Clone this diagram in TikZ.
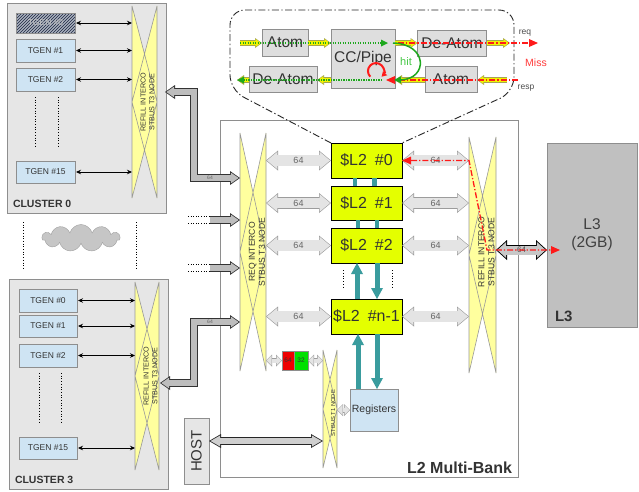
\documentclass[tikz,border=0pt]{standalone}
\usepackage{fontspec}
\setmainfont{Liberation Sans}
\usetikzlibrary{arrows.meta,calc,patterns,shapes.symbols}

\definecolor{clusbg}{HTML}{E6E6E6}
\definecolor{bord}{HTML}{8E8E8E}
\definecolor{tgfill}{HTML}{CFE4F3}
\definecolor{hatchbg}{HTML}{A9B0BE}
\definecolor{hatchc}{HTML}{1C2640}
\definecolor{icfill}{HTML}{FFFF9E}
\definecolor{icline}{HTML}{999999}
\definecolor{bankfill}{HTML}{E4FF00}
\definecolor{tealc}{HTML}{3A9C9E}
\definecolor{txt}{HTML}{333333}
\definecolor{l3fill}{HTML}{C0C0C0}
\definecolor{boxgray}{HTML}{DEDEDE}
\definecolor{arrlight}{HTML}{E4E4E4}
\definecolor{arrlline}{HTML}{9C9C9C}
\definecolor{arrdark}{HTML}{BDBDBD}
\definecolor{arrdline}{HTML}{333333}
\definecolor{l3arr}{HTML}{C8C8C8}
\definecolor{hostarr}{HTML}{CFCFCF}
\definecolor{yel}{HTML}{F2F200}
\definecolor{yelline}{HTML}{A5A552}
\definecolor{grn}{HTML}{1EA81E}
\definecolor{hitg}{HTML}{45C845}
\definecolor{redc}{HTML}{FF1A1A}
\definecolor{misc}{HTML}{FF3B3B}
\definecolor{lab}{HTML}{666666}
\definecolor{redbox}{HTML}{EE0000}
\definecolor{grnbox}{HTML}{00E000}

% fat outlined arrow, tips at both ends
% #1 outline, #2 fill, #3 shaft, #4 border, #5 head width, #6 head length, #7 path
\newcommand\fatB[7]{%
  \pgfmathsetmacro\FAd{#4/sin(atan(#5/(2*#6)))}%
  \pgfmathsetmacro\FAL{#6-#4-\FAd}%
  \pgfmathsetmacro\FAW{#5*\FAL/#6}%
  \pgfmathsetmacro\FAo{#3+2*#4}%
  \draw[draw=#1, line width=\FAo pt, line join=miter,
    {Triangle[length=#6pt,width=#5pt,line width=0pt]}-{Triangle[length=#6pt,width=#5pt,line width=0pt]}] #7;
  \draw[draw=#2, line width=#3pt, line join=miter, shorten <=\FAd pt, shorten >=\FAd pt,
    {Triangle[length=\FAL pt,width=\FAW pt,line width=0pt]}-{Triangle[length=\FAL pt,width=\FAW pt,line width=0pt]}] #7;
}
% fat outlined arrow, tip at end only
\newcommand\fatE[7]{%
  \pgfmathsetmacro\FAd{#4/sin(atan(#5/(2*#6)))}%
  \pgfmathsetmacro\FAL{#6-#4-\FAd}%
  \pgfmathsetmacro\FAW{#5*\FAL/#6}%
  \pgfmathsetmacro\FAo{#3+2*#4}%
  \draw[draw=#1, line width=\FAo pt, line join=miter,
    -{Triangle[length=#6pt,width=#5pt,line width=0pt]}] #7;
  \draw[draw=#2, line width=#3pt, line join=miter, shorten >=\FAd pt,
    -{Triangle[length=\FAL pt,width=\FAW pt,line width=0pt]}] #7;
}
% STBus node (crossbar) shape drawn over an invisible node
\newcommand\icshape[1]{%
  \fill[icfill] (#1.north west) -- (#1.east) -- (#1.south west) -- cycle;
  \fill[icfill] (#1.north east) -- (#1.west) -- (#1.south east) -- cycle;
  \draw[icline, line width=0.6pt, line join=bevel]
     (#1.north west) -- (#1.east) -- (#1.south west) -- cycle
     (#1.north east) -- (#1.west) -- (#1.south east) -- cycle;}

\begin{document}
\begin{tikzpicture}[x=1pt,y=-1pt,
  every node/.style={inner sep=0pt, outer sep=0pt, text=txt},
  clus/.style={draw=bord, fill=clusbg, line width=0.8pt},
  tgb/.style={draw=bord, line width=0.6pt, minimum width=59, minimum height=22, font=\fontsize{8.5}{10}\selectfont},
  tg/.style={tgb, fill=tgfill},
  iclab/.style={rotate=90, align=center, text=txt},
  bank/.style={draw=black, line width=0.8pt, fill=bankfill, minimum width=71, minimum height=35, font=\fontsize{16}{18}\selectfont},
  cbox/.style={draw=bord, line width=0.6pt, fill=boxgray, minimum height=26, font=\fontsize{15.5}{18}\selectfont},
  lab64/.style={font=\fontsize{9}{10}\selectfont, text=lab},
  bidir/.style={{Stealth[length=5pt,width=4.5pt]}-{Stealth[length=5pt,width=4.5pt]}, line width=0.7pt, draw=black, shorten <=1pt},
  tealbar/.style={draw=tealc, line width=4.5pt},
  tealarr/.style={draw=tealc, line width=5pt, -{Triangle[length=11pt,width=12pt,line width=0pt]}},
  reddash/.style={draw=redc, line width=1.3pt, dash pattern=on 6pt off 2pt on 1.3pt off 2pt},
  grndot/.style={draw=grn, line width=1.4pt, dash pattern=on 1.3pt off 1.2pt},
  redtip/.style={-{Triangle[length=9pt,width=8pt,line width=0pt]}},
  grntip/.style={-{Triangle[length=7pt,width=7pt,line width=0pt]}},
  callout/.style={draw=black!85, line width=0.9pt, dash pattern=on 7pt off 2.5pt on 1.3pt off 2.5pt, rounded corners=15pt},
]
\useasboundingbox (0,0) rectangle (639,491);
\fill[white] (0,0) rectangle (639,491);

% ================= L2 multi-bank frame =================
\node[draw=bord, fill=white, line width=0.7pt, minimum width=298, minimum height=357] (l2) at (369,298.5) {};
\node[anchor=east, font=\bfseries\fontsize{16}{18}\selectfont] (l2lab) at (512,468) {L2 Multi-Bank};

% ================= L3 =================
\node[draw=bord, fill=l3fill, line width=0.7pt, minimum width=90, minimum height=184, align=center,
      font=\fontsize{15.5}{18}\selectfont, text=black!75] (l3) at (592,235) {L3\\(2GB)};
\node[anchor=west, font=\bfseries\fontsize{15}{17}\selectfont] (l3lab) at (555,316) {L3};

% ================= Cluster 0 =================
\node[clus, minimum width=159, minimum height=210] (c0) at (86.5,108) {};
\node[tgb, minimum height=20, preaction={fill=hatchbg}, pattern=north east lines, pattern color=hatchc, text=gray!45] (c0t0) at (45.5,23) {TGEN \#0};
\node[tg, minimum height=23] (c0t1) at (45.5,50.5) {TGEN \#1};
\node[tg, minimum height=23] (c0t2) at (45.5,79.5) {TGEN \#2};
\node[tg] (c0t15) at (45.5,172) {TGEN \#15};
\draw[dotted, line width=0.7pt] (35,97) -- (35,146) (58,97) -- (58,146);
\node[minimum width=25, minimum height=192] (c0ic) at (144.5,102) {};
\icshape{c0ic}
\node[iclab, font=\fontsize{7.2}{8.8}\selectfont] (c0icl) at ($(c0ic.center)+(3,0)$) {REFILL INTERCO\\STBUS T3 NODE};
\foreach \t in {c0t0,c0t1,c0t2,c0t15} \draw[bidir] (\t.east) -- (c0ic.west |- \t.east);
\node[anchor=west, font=\bfseries\fontsize{10.5}{12}\selectfont] (c0lab) at (13,204) {CLUSTER 0};

% ================= other clusters (cloud) =================
\node[cloud, cloud puffs=11, aspect=2.9, draw=gray!75, fill=gray!45, minimum width=78, minimum height=27] (cloud) at (81,238) {};
\draw[dotted, line width=0.7pt] (23,222) -- (23,270) (136,222) -- (136,270);

% ================= Cluster 3 =================
\node[clus, minimum width=159, minimum height=210] (c3) at (88.5,384) {};
\node[tg, minimum width=58, minimum height=23] (c3t0) at (48,300.5) {TGEN \#0};
\node[tg, minimum width=58] (c3t1) at (48,326) {TGEN \#1};
\node[tg, minimum width=58, minimum height=23] (c3t2) at (48,355.5) {TGEN \#2};
\node[tg, minimum width=58] (c3t15) at (48,448) {TGEN \#15};
\draw[dotted, line width=0.7pt] (39,373) -- (39,422) (61,373) -- (61,422);
\node[minimum width=24, minimum height=188] (c3ic) at (147,376) {};
\icshape{c3ic}
\node[iclab, font=\fontsize{7.2}{8.8}\selectfont] (c3icl) at ($(c3ic.center)+(3.5,0)$) {REFILL INTERCO\\STBUS T3 NODE};
\foreach \t in {c3t0,c3t1,c3t2,c3t15} \draw[bidir] (\t.east) -- (c3ic.west |- \t.east);
\node[anchor=west, font=\bfseries\fontsize{10.5}{12}\selectfont] (c3lab) at (15,480) {CLUSTER 3};

% ================= interconnect nodes inside L2 =================
\node[minimum width=26, minimum height=238] (req) at (253,252) {};
\icshape{req}
\node[iclab, font=\fontsize{8.6}{10}\selectfont] (reql) at ($(req.center)+(4,0)$) {REQ INTERCO\\STBUS T3 NODE};
\node[minimum width=27, minimum height=236] (rf) at (482.5,255) {};
\icshape{rf}
\node[iclab, font=\fontsize{8.6}{10}\selectfont] (rfl) at ($(rf.center)+(4,-3)$) {REFILL INTERCO\\STBUS T3 NODE};
\node[minimum width=14, minimum height=118] (t1) at (330,409) {};
\icshape{t1}
\node[iclab, font=\fontsize{5.8}{7}\selectfont] (t1l) at ($(t1.center)+(3,4)$) {STBUS T1 NODE};

% ================= callout (zoom on a bank) =================
\node[bank] (b0) at (366.5,160.5) {\$L2\hspace{0.5em}\#0};
\coordinate (coA) at (230,90);
\coordinate (coB) at (230,10);
\coordinate (coC) at (514,10);
\coordinate (coD) at (514,92);
\draw[callout] (b0.north west) -- (coA) -- (coB) -- (coC) -- (coD) -- (b0.north east);

\node[cbox, minimum width=46, minimum height=27] (atomA) at (285,42.5) {Atom};
\node[cbox, minimum width=64, minimum height=59] (cc) at (363,58.5) {CC/Pipe};
\node[cbox, minimum width=69] (deA) at (452,43) {De-Atom};
\node[cbox, minimum width=68] (deB) at (283,79) {De-Atom};
\node[cbox, minimum width=52] (atomB) at (451,79) {Atom};

\coordinate (ya0) at (240,43);
\coordinate (ya4) at (510,43);
\coordinate (yb0) at (507,80);
\coordinate (yb3) at (237,80);
\fatE{yelline}{yel}{4.5}{0.6}{10}{7}{(ya0) -- (atomA.west |- ya0)}
\fatE{yelline}{yel}{4.5}{0.6}{10}{7}{(atomA.east |- ya0) -- (cc.west |- ya0)}
\fatE{yelline}{yel}{4.5}{0.6}{10}{7}{(cc.east |- ya0) -- (deA.west |- ya0)}
\fatE{yelline}{yel}{4.5}{0.6}{10}{7}{(deA.east |- ya0) -- (ya4)}
\fatE{yelline}{yel}{4.5}{0.6}{10}{7}{(yb0) -- (atomB.east |- yb0)}
\fatE{yelline}{yel}{4.5}{0.6}{10}{7}{(atomB.west |- yb0) -- (cc.east |- yb0)}
\fatE{yelline}{yel}{4.5}{0.6}{10}{7}{(cc.west |- yb0) -- (deB.east |- yb0)}
\fatE{yelline}{yel}{4.5}{0.6}{10}{7}{(deB.west |- yb0) -- (yb3)}

\coordinate (gA) at (388,43);
\coordinate (gB) at (382,80);
\coordinate (rA0) at (398,43);
\coordinate (rA1) at (538,43);
\coordinate (rB0) at (518,80);
\coordinate (rB1) at (386,80);
\draw[grndot, grntip] (ya0) -- (gA);
\draw[grndot, grntip] (gB) -- (yb3);
\draw[reddash, redtip] (rA0) -- (rA1);
\draw[reddash, redtip] (rB0) -- (rB1);
\draw[grn, line width=1.5pt, grntip] (393,43) .. controls (428,44) and (428,79) .. (394,80);
\node[font=\fontsize{11}{12}\selectfont, text=hitg] (hit) at (406,62) {hit};
\draw[redc, line width=2pt, -{Triangle[length=5pt,width=6pt,line width=0pt]}] (370.3,76.7) arc[start angle=-225, end angle=45, radius=8];
\node[font=\fontsize{8.5}{10}\selectfont, text=black!70] (reqlab) at (525,33) {req};
\node[font=\fontsize{8.5}{10}\selectfont, text=black!70] (resplab) at (526,88) {resp};
\node[font=\fontsize{10.5}{12}\selectfont, text=misc] (miss) at (536,63) {Miss};

% ================= L2 banks =================
\node[bank, minimum height=34] (b1) at (366.5,203) {\$L2\hspace{0.5em}\#1};
\node[bank] (b2) at (366.5,245.5) {\$L2\hspace{0.5em}\#2};
\node[bank] (bn) at (366.5,316.5) {\$L2\hspace{0.5em}\#n-1};
\draw[dotted, line width=0.8pt] (343,270) -- (343,288) (392,270) -- (392,288);

\node[draw=bord, fill=tgfill, line width=0.6pt, minimum width=48, minimum height=42, font=\fontsize{10.5}{12}\selectfont] (reg) at (374,410) {Registers};

\draw[tealbar] ($(b0.south)+(-11.5,0)$) -- ($(b1.north)+(-11.5,0)$);
\draw[tealbar] ($(b0.south)+(8,0)$) -- ($(b1.north)+(8,0)$);
\draw[tealbar] ($(b1.south)+(-8.5,0)$) -- ($(b2.north)+(-8.5,0)$);
\draw[tealbar] ($(b1.south)+(10.5,0)$) -- ($(b2.north)+(10.5,0)$);
\draw[tealarr] ($(bn.north)+(-9.5,0)$) -- ($(b2.south)+(-9.5,0)$);
\draw[tealarr] ($(b2.south)+(10.5,0)$) -- ($(bn.north)+(10.5,0)$);
\draw[tealarr] ($(reg.north)+(-16,0)$) -- ($(bn.south)+(-8.5,0)$);
\draw[tealarr] ($(bn.south)+(10.5,0)$) -- ($(reg.north)+(3,0)$);

% 64-bit links between interconnects and banks
\foreach \b in {b0,b1,b2,bn}{
  \fatB{arrlline}{arrlight}{10.5}{0.6}{20}{12}{(req.east |- \b) -- (\b.west)}
  \node[lab64] (ll\b) at ($(req.east |- \b)!0.5!(\b.west)$) {64};
  \fatB{arrlline}{arrlight}{10.5}{0.6}{20}{12}{(\b.east) -- (rf.west |- \b)}
  \node[lab64] (lr\b) at ($(\b.east)!0.5!(rf.west |- \b)$) {64};
}

% ================= L3 link =================
\coordinate (y250) at (0,250);
\fatB{black}{l3arr}{9}{0.9}{20}{11}{(rf.east |- y250) -- (l3.west |- y250)}
\node[font=\fontsize{8}{9}\selectfont, text=black!70] (l3w) at ($(rf.east |- y250)!0.5!(l3.west |- y250)$) {64};

% miss path
\coordinate (rm1) at (rf.west |- b0.east);
\coordinate (rm2) at (487,250);
\coordinate (rm3) at (560,250);
\draw[reddash, {Triangle[length=9pt,width=8pt,line width=0pt]}-{Triangle[length=9pt,width=8pt,line width=0pt]}]
  (b0.east) -- (rm1) -- (rm2) -- (rm3);

% ================= cluster links to REQ =================
\coordinate (c0o) at (165,92);
\coordinate (k0a) at (194,92);
\coordinate (k0b) at (194,178);
\fatB{arrdline}{arrdark}{5.6}{0.8}{14}{10}{(c0o) -- (k0a) -- (k0b) -- (req.west |- k0b)}
\node[font=\fontsize{5}{6}\selectfont, text=black!60] (w0) at (210,178) {64};

\coordinate (c3o) at (160,383);
\coordinate (k3a) at (194,383);
\coordinate (k3b) at (194,322);
\fatB{arrdline}{arrdark}{5.6}{0.8}{14}{10}{(c3o) -- (k3a) -- (k3b) -- (req.west |- k3b)}
\node[font=\fontsize{5}{6}\selectfont, text=black!60] (w3) at (210,322) {64};

\coordinate (o1) at (210,220);
\coordinate (o2) at (210,268);
\fatE{arrdline}{arrdark}{5.6}{0.8}{14}{10}{(o1) -- (req.west |- o1)}
\fatE{arrdline}{arrdark}{5.6}{0.8}{14}{10}{(o2) -- (req.west |- o2)}
\draw[dotted, line width=0.6pt] (188,216.6) -- (210,216.6) (188,223.4) -- (210,223.4)
                                (188,264.6) -- (210,264.6) (188,271.4) -- (210,271.4);

% ================= 64/32 converter, T1 node, host =================
\node[draw=bord, fill=redbox, line width=0.5pt, minimum width=12, minimum height=19, font=\fontsize{6.5}{7}\selectfont] (r64) at (288,360.5) {64};
\node[draw=bord, fill=grnbox, line width=0.5pt, minimum width=14, minimum height=19, font=\fontsize{6.5}{7}\selectfont] (g32) at (301,360.5) {32};
\fatB{arrlline}{arrlight}{4}{0.5}{12}{6}{(req.east |- r64) -- (r64.west)}
\fatB{arrlline}{arrlight}{4}{0.5}{12}{6}{(g32.east) -- (t1.west |- g32)}
\fatB{arrlline}{arrlight}{4}{0.5}{12}{6}{(t1.east |- reg) -- (reg.west)}

\node[draw=bord, fill=clusbg, line width=0.8pt, minimum width=25, minimum height=66] (host) at (196.5,451) {};
\node[rotate=90, font=\fontsize{15}{17}\selectfont] (hostl) at (host) {HOST};
\coordinate (y441) at (0,441);
\fatB{black!85}{hostarr}{6}{0.8}{14}{12}{(host.east |- y441) -- (t1.west |- y441)}

\end{tikzpicture}
\end{document}
